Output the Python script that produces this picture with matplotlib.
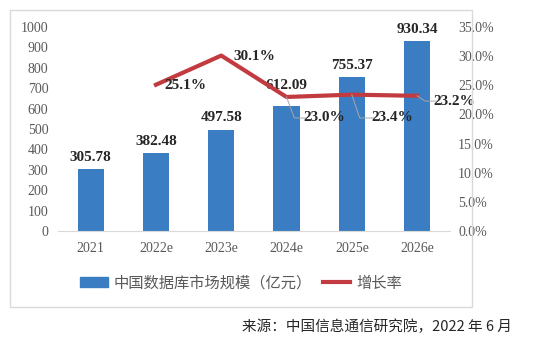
import matplotlib.pyplot as plt
import matplotlib.patches as mpatches
from matplotlib.lines import Line2D

plt.rcParams['font.family'] = ['Liberation Serif', 'Noto Sans CJK SC']

years = ['2021', '2022e', '2023e', '2024e', '2025e', '2026e']
market = [305.78, 382.48, 497.58, 612.09, 755.37, 930.34]
growth_years = ['2022e', '2023e', '2024e', '2025e', '2026e']
growth = [25.1, 30.1, 23.0, 23.4, 23.2]

bar_color = '#3A7DC2'
line_color = '#C23B40'
tick_color = '#595959'

fig = plt.figure(figsize=(5.58, 3.46), dpi=100)

# outer chart frame
fig.patches.append(mpatches.Rectangle((0.018, 0.113), 0.828, 0.858, transform=fig.transFigure,
                                      fill=False, edgecolor='#D9D9D9', linewidth=1))

ax = fig.add_axes([0.104, 0.332, 0.702, 0.590])
x = list(range(len(years)))
ax.bar(x, market, width=0.4, color=bar_color, zorder=2)
ax.set_ylim(0, 1000)
ax.set_yticks(range(0, 1001, 100))
ax.set_xlim(-0.5, len(years) - 0.5)
ax.set_xticks(x)
ax.set_xticklabels(years)
for s in ['top', 'right', 'left']:
    ax.spines[s].set_visible(False)
ax.spines['bottom'].set_color('#D9D9D9')
ax.tick_params(length=0, labelsize=10, colors=tick_color, pad=8)
ax.tick_params(axis='y', pad=7)

for xi, v in zip(x, market):
    lift = 70 if v == 612.09 else 25
    ax.text(xi, v + lift, f'{v:.2f}', ha='center', va='bottom', fontsize=11,
            fontweight='bold', color='#262626', zorder=5)

ax2 = ax.twinx()
gx = [years.index(g) for g in growth_years]
ax2.plot(gx, growth, color=line_color, linewidth=3, zorder=3)
ax2.set_ylim(0, 35)
ax2.set_yticks(range(0, 36, 5))
ax2.set_yticklabels([f'{t:.1f}%' for t in range(0, 36, 5)])
for s in ['top', 'right', 'left', 'bottom']:
    ax2.spines[s].set_visible(False)
ax2.tick_params(length=0, labelsize=10, colors=tick_color, pad=6)

# growth labels: (dx, dy) offset of label centre, leader line or not
offsets = [(0.45, -0.2, False), (0.5, -0.1, False), (0.58, -3.6, True), (0.62, -4.0, True), (0.57, -0.9, True)]
for xi, g, (dx, dy, lead) in zip(gx, growth, offsets):
    tx, ty = xi + dx, g + dy
    if lead:
        ax2.plot([xi, xi + 0.12, xi + dx - 0.28], [g, ty, ty], color='#A6A6A6', linewidth=0.7, zorder=4)
    ax2.text(tx, ty, f'{g:.1f}%', ha='center', va='center', fontsize=11,
             fontweight='bold', color='#262626', zorder=5)

handles = [mpatches.Patch(color=bar_color), Line2D([0], [0], color=line_color, linewidth=3)]
fig.legend(handles, ['中国数据库市场规模（亿元）', '增长率'], loc='center', bbox_to_anchor=(0.432, 0.182),
           ncol=2, frameon=False, handlelength=1.8, handleheight=0.6,
           columnspacing=0.7, handletextpad=0.4, labelcolor=tick_color,
           prop={'family': ['Noto Sans CJK SC'], 'size': 11})

fig.text(0.918, 0.055, '来源：中国信息通信研究院，2022 年 6 月', ha='right', va='center',
         fontsize=10.5, color='#262626', family=['Noto Sans CJK SC'])

fig.savefig('out.png', dpi=100)
